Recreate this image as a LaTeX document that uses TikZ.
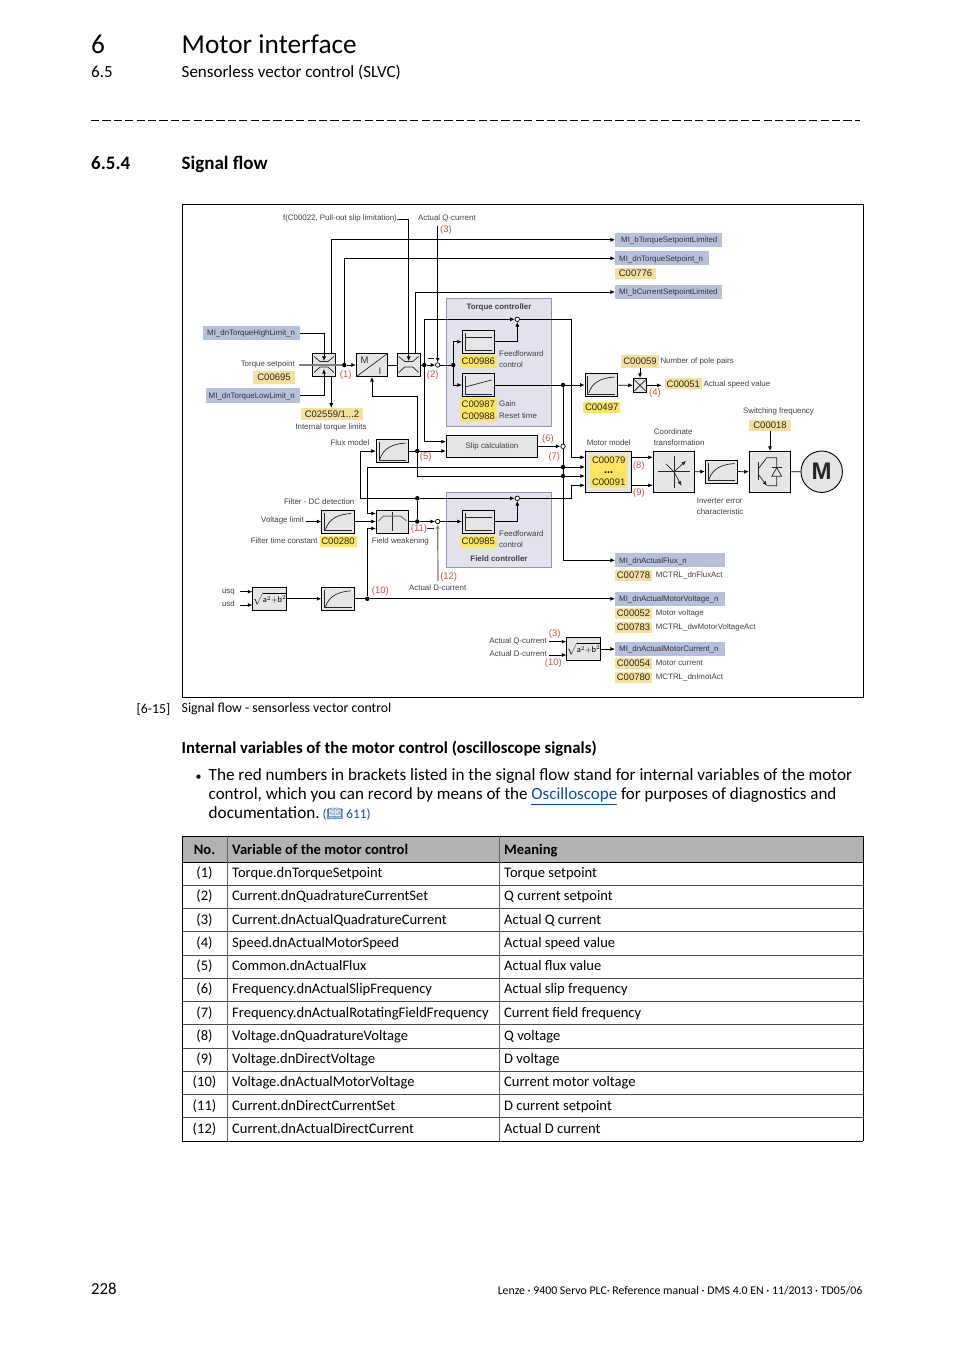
\documentclass[tikz,border=0pt]{standalone}
\usepackage{fontspec}
\setmainfont{Carlito}
\newfontfamily\diagfont{Liberation Sans}
\newfontfamily\bookfont{Noto Emoji}
\usetikzlibrary{arrows.meta}
\definecolor{blockgray}{HTML}{E4E5E7}
\definecolor{panelblue}{HTML}{E1E2EE}
\definecolor{panelline}{HTML}{8F97B8}
\definecolor{sigfill}{HTML}{B5C1DC}
\definecolor{codefill}{HTML}{F8E09C}
\definecolor{ctrlfill}{HTML}{FFE45F}
\definecolor{redtext}{HTML}{C4513F}
\definecolor{headgray}{HTML}{B2B2B2}
\definecolor{linkblue}{HTML}{0B4EA2}
\newcommand{\labfont}{\diagfont\fontsize{7.9pt}{11pt}\selectfont}
\newcommand{\codefont}{\diagfont\fontsize{9.5pt}{11pt}\selectfont}
\tikzset{
    lab/.style={
           font=\labfont,
           text=black!75,
           inner sep=0pt,
           text height=6pt,
           text depth=1.6pt,
           },
}
\tikzset{
    mlab/.style={
           font=\labfont,
           text=black!75,
           inner sep=0pt,
           align=left,
           anchor=north west,
           },
}
\tikzset{
    redlab/.style={
           font=\codefont,
           text=redtext,
           inner sep=0pt,
           },
}
\tikzset{
    sigbox/.style={
           font=\labfont,
           text=black!80,
           fill=sigfill,
           inner xsep=4pt,
           inner ysep=0pt,
           align=left,
           anchor=west,
           text height=7pt,
           text depth=1.6pt,
           minimum height=14pt,
           },
}
\tikzset{
    codebox/.style={
           font=\codefont,
           text=black!85,
           fill=codefill,
           inner sep=0pt,
           minimum width=37pt,
           minimum height=11pt,
           },
}
\tikzset{
    ctrlbox/.style={
           codebox,
           fill=ctrlfill,
           },
}
\tikzset{
    block/.style={
           draw=black,
           line width=.9pt,
           fill=blockgray,
           inner sep=0pt,
           minimum width=32.4pt,
           minimum height=23pt,
           },
}
\tikzset{
    panel/.style={
           draw=panelline,
           line width=.9pt,
           fill=panelblue,
           minimum width=105pt,
           inner sep=0pt,
           },
}
\tikzset{
    dot/.style={
           circle,
           fill=black,
           inner sep=0pt,
           minimum size=4.5pt,
           },
}
\tikzset{
    sumnode/.style={
           circle,
           draw=black,
           fill=white,
           line width=.7pt,
           inner sep=0pt,
           minimum size=4.5pt,
           },
}
\tikzset{
    flow/.style={
           draw=black,
           line width=.75pt,
           -{Latex[length=4.6pt,width=4pt]},
           },
}
\tikzset{
    wire/.style={
           draw=black,
           line width=.75pt,
           },
}
\tikzset{
    graywire/.style={
           draw=black!50,
           line width=1.2pt,
           },
}
\tikzset{
    icon/.style={
           draw=black!85,
           line width=.7pt,
           },
}
\tikzset{
    page/.style={
           inner sep=0pt,
           anchor=west,
           text height=10.5pt,
           text depth=3.2pt,
           },
}
\tikzset{
    cell/.style={
           font=\fontsize{14.55pt}{17pt}\selectfont,
           inner sep=0pt,
           text height=9.8pt,
           text depth=3pt,
           },
}
% icons inside the blocks
\newcommand{\axes}[1]{
    \draw[icon] ([shift={(-13.5,-9)}]#1.center) -- ([shift={(-13.5,9)}]#1.center) -- ([shift={(13.5,9)}]#1.center);
}
\newcommand{\curveicon}[1]{
    \axes{#1}
    \draw[icon] ([shift={(-12.5,8)}]#1.center) .. controls ([shift={(-9,-3)}]#1.center) and ([shift={(0,-7)}]#1.center) .. ([shift={(13,-8)}]#1.center);
}
\newcommand{\limicon}[1]{
    \draw[icon] ([shift={(-10,-8.5)}]#1.center) -- ([shift={(-4,-3.5)}]#1.center) -- ([shift={(4,-3.5)}]#1.center) -- ([shift={(10,-8.5)}]#1.center);
    \draw[icon] ([shift={(-10,7.5)}]#1.center) -- ([shift={(-4,2)}]#1.center) -- ([shift={(4,2)}]#1.center) -- ([shift={(10,7.5)}]#1.center);
}
\begin{document}
\begin{tikzpicture}[x=1pt,y=-1pt]
\useasboundingbox (0,0) rectangle (954,1350);
% page head
\node[anchor=west,inner sep=0pt,font=\fontsize{27.3pt}{30pt}\selectfont](chapno) at (91,44.5){6};
\node[anchor=west,inner sep=0pt,font=\fontsize{27.3pt}{30pt}\selectfont](chaptitle) at (181.5,44.5){Motor interface};
\node[page,font=\fontsize{17pt}{19pt}\selectfont](secno) at (91,73.5){6.5};
\node[page,font=\fontsize{17pt}{19pt}\selectfont](sectitle) at (181.5,73.5){Sensorless vector control (SLVC)};
\draw[line width=.8pt,dash pattern=on 8.2pt off 3.2pt] (91,120) -- (860,120);
\node[page,font=\fontsize{19pt}{22pt}\selectfont\bfseries](subno) at (91,166){6.5.4};
\node[page,font=\fontsize{19pt}{22pt}\selectfont\bfseries](subtitle) at (181.5,166){Signal flow};
% frame and panels
\draw[line width=.9pt] (182,204) rectangle (863,697);
\node[panel,minimum height=128pt](torquepanel) at (499.2,362.3){};
\node[panel,minimum height=75pt](fieldpanel) at (499.2,529.8){};
% blocks
\node[block,minimum width=23.4pt](lim1) at (324,365){};
\node[block,minimum width=31.4pt](mi) at (372,365){};
\node[block,minimum width=22.7pt](lim2) at (408.7,365){};
\node[block](ff1) at (478.5,341.8){};
\node[block](ff2) at (478.5,385){};
\node[block](rate) at (601.3,385){};
\node[block,minimum width=13.4pt,minimum height=14pt](mult) at (640,385.3){};
\node[block,minimum width=91.4pt,minimum height=22pt,font=\labfont,text=black!75](slip) at (492,446.3){Slip calculation};
\node[block,minimum height=23.4pt](flux) at (392.5,451){};
\node[block](filt) at (338,521.5){};
\node[block](fw) at (392.5,521.5){};
\node[block](ff3) at (478.5,521.5){};
\node[block,font=\diagfont\fontsize{8.4pt}{10pt}\selectfont](sq1) at (269.5,598.8){$\sqrt{\mathrm{a}^2\mathrm{+b}^2}$};
\node[block](filt2) at (338,598.8){};
\node[block,minimum height=23.4pt,font=\diagfont\fontsize{8.4pt}{10pt}\selectfont](sq2) at (583.5,649){$\sqrt{\mathrm{a}^2\mathrm{+b}^2}$};
\node[block,minimum width=46pt,minimum height=41pt](mm) at (608.3,471.8){};
\node[block,minimum width=41.4pt,minimum height=41pt](coord) at (674,471.8){};
\node[block](inverr) at (721.5,471.5){};
\node[block,minimum width=41.4pt,minimum height=41pt](igbt) at (770,471.8){};
\node[circle,draw=black,line width=.9pt,fill=blockgray,minimum size=41.4pt,inner sep=0pt,font=\diagfont\fontsize{24pt}{26pt}\selectfont\bfseries,text=black!85](motor) at (821.7,471.7){M};
% junctions
\node[dot](dotA) at (344.3,365){};
\node[dot](dotB) at (424.3,365){};
\node[sumnode](sumQ) at (437.7,365){};
\node[dot](dotC) at (453.3,365){};
\node[sumnode](sumT) at (517.3,319.3){};
\node[dot](dotS) at (563,385){};
\node[sumnode](sumF) at (563,446.3){};
\node[dot](dotG) at (563,467){};
\node[dot](dotH) at (563,476){};
\node[dot](dotF) at (417.3,451){};
\node[dot](dotI) at (417.3,498.3){};
\node[dot](dotJ) at (417.3,521.5){};
\node[sumnode](sumD) at (437.7,521.5){};
\node[sumnode](sumV) at (517.3,498.3){};
\node[dot](dotK) at (367.3,598.8){};
% signal names
\node[sigbox,text width=89pt](hi) at (203,333){MI\_dnTorqueHighLimit\_n};
\node[sigbox,text width=89pt,inner xsep=2.5pt,minimum height=15pt](lo) at (206,395.8){MI\_dnTorqueLowLimit\_n};
\node[sigbox,text width=95pt,inner xsep=6pt](bTq) at (615,239.8){MI\_bTorqueSetpointLimited};
\node[sigbox,text width=86pt](dnTq) at (615,258.3){MI\_dnTorqueSetpoint\_n};
\node[sigbox,text width=99pt](bCur) at (615,292){MI\_bCurrentSetpointLimited};
\node[sigbox,text width=102pt](aFlux) at (615,560.3){MI\_dnActualFlux\_n};
\node[sigbox,text width=102pt](vMot) at (615,598.8){MI\_dnActualMotorVoltage\_n};
\node[sigbox,text width=102pt](iMot) at (615,649){MI\_dnActualMotorCurrent\_n};
% parameter codes
\node[codebox,minimum width=41pt](c776) at (635.5,273){C00776};
\node[codebox,minimum width=42pt,minimum height=13pt](c695) at (274,377.5){C00695};
\node[codebox,minimum width=62pt,minimum height=12pt](c2559) at (332,414){C02559/1...2};
\node[codebox,minimum width=37.7pt,minimum height=12.7pt](c59) at (640,361.3){C00059};
\node[codebox,minimum height=11pt](c51) at (683.3,383.8){C00051};
\node[codebox,minimum width=41.7pt](c18) at (770,425){C00018};
\node[codebox](c778) at (633.5,575.5){C00778};
\node[codebox](c52) at (633.5,613.3){C00052};
\node[codebox](c783) at (633.5,627){C00783};
\node[codebox](c54) at (633.5,663.3){C00054};
\node[codebox](c780) at (633.5,677){C00780};
\node[ctrlbox,minimum height=12.7pt](c986) at (478.3,361.3){C00986};
\node[ctrlbox,minimum height=12.5pt](c987) at (478.3,404.5){C00987};
\node[ctrlbox,minimum height=12pt](c988) at (478.3,416.3){C00988};
\node[ctrlbox,minimum width=36.7pt,minimum height=11pt](c497) at (601.7,407.2){C00497};
\node[ctrlbox](c280) at (338,541.2){C00280};
\node[ctrlbox](c985) at (478.3,541.5){C00985};
\node[ctrlbox,minimum width=37.3pt,minimum height=32.7pt](c79) at (608.7,471.7){};
\node[font=\codefont,text=black!85,inner sep=0pt](c79a) at (608.7,460.3){C00079};
\node[font=\diagfont\fontsize{11pt}{12pt}\selectfont\bfseries,inner sep=0pt](c79b) at (608.7,472.6){...};
\node[font=\codefont,text=black!85,inner sep=0pt](c79c) at (608.7,482.7){C00091};
% texts
\node[lab,anchor=east](pullout) at (397,218.3){f(C00022, Pull-out slip limitation)};
\node[lab,anchor=west](actQ) at (418,218.3){Actual Q-current};
\node[lab,anchor=east](tqset) at (295,364.6){Torque setpoint};
\node[lab](inttq) at (331,427.3){Internal torque limits};
\node[lab,anchor=east](fluxlab) at (369.5,443.3){Flux model};
\node[lab,font=\labfont\bfseries](tqctrl) at (499,307.3){Torque controller};
\node[mlab](ffa) at (499,350.9){Feedforward\\control};
\node[lab,anchor=west](gain) at (499,404.5){Gain};
\node[lab,anchor=west](reset) at (499,416.5){Reset time};
\node[lab,anchor=west](poles) at (660.3,361.3){Number of pole pairs};
\node[lab,anchor=west](speed) at (703.3,384.3){Actual speed value};
\node[lab](mmlab) at (608.7,443.3){Motor model};
\node[mlab](cotrans) at (653.7,428.8){Coordinate\\transformation};
\node[lab](swf) at (778.5,411.3){Switching frequency};
\node[mlab](ierr) at (696.7,497.7){Inverter error\\characteristic};
\node[lab,anchor=east](filtdc) at (354.5,502.3){Filter - DC detection};
\node[lab,anchor=east](vlimlab) at (304,520.6){Voltage limit};
\node[lab,anchor=east](ftc) at (317.7,541.3){Filter time constant};
\node[lab](fwlab) at (400.3,541.3){Field weakening};
\node[mlab](ffb) at (499,530.8){Feedforward\\control};
\node[lab,font=\labfont\bfseries](fctrl) at (499,559.3){Field controller};
\node[lab](actD) at (437.7,588.3){Actual D-current};
\node[lab,anchor=east](usq) at (235,591.6){usq};
\node[lab,anchor=east](usd) at (235,604.6){usd};
\node[lab,anchor=east](actQb) at (547,641.3){Actual Q-current};
\node[lab,anchor=east](actDb) at (547,654.3){Actual D-current};
\node[lab,anchor=west](mfa) at (655.7,575.3){MCTRL\_dnFluxAct};
\node[lab,anchor=west](mv) at (655.7,613.3){Motor voltage};
\node[lab,anchor=west](mva) at (655.7,627.3){MCTRL\_dwMotorVoltageAct};
\node[lab,anchor=west](mc) at (655.7,663.3){Motor current};
\node[lab,anchor=west](mia) at (655.7,677.3){MCTRL\_dnImotAct};
% red numbers
\node[redlab](n1) at (345.7,375){(1)};
\node[redlab](n2) at (432.7,375){(2)};
\node[redlab](n3) at (446,230){(3)};
\node[redlab](n4) at (655,393.5){(4)};
\node[redlab](n5) at (425.7,457){(5)};
\node[redlab](n6) at (548,439){(6)};
\node[redlab](n7) at (554.3,457){(7)};
\node[redlab](n8) at (638.7,466){(8)};
\node[redlab](n9) at (639,493){(9)};
\node[redlab](n10) at (380.3,591){(10)};
\node[redlab](n11) at (419,528.7){(11)};
\node[redlab](n12) at (448.7,577){(12)};
\node[redlab](n3b) at (554.7,634.5){(3)};
\node[redlab](n10b) at (553.3,663.3){(10)};
% free ends and bends
\coordinate (inTq) at (299.3,365);
\coordinate (pullend) at (399.3,219.7);
\coordinate (qend) at (437.7,226.3);
\coordinate (tk) at (571.7,457.3);
\coordinate (rk) at (571.7,485.3);
\coordinate (fk) at (360.3,451);
\coordinate (fwk) at (367.3,513.5);
\coordinate (vlim) at (306,521.5);
\coordinate (dend) at (438,581);
\coordinate (usqend) at (240,591.7);
\coordinate (usdend) at (240,605);
\coordinate (qbend) at (549.3,641.7);
\coordinate (dbend) at (549.3,655);
% connectors
\draw[graywire] (inTq) -- (dotA);
\draw[flow] (dotA) -- (mi);
\draw[flow] (hi) -| ([yshift=-8pt]lim1.north);
\draw[flow] (lo) -| ([yshift=8pt]lim1.south);
\draw[flow] ([xshift=7.3pt]lim1.south) -- ([xshift=7.3pt]lim1.south |- c2559.north);
\draw[flow] ([xshift=7.3pt]lim1.north) |- (bTq);
\draw[flow] (dotA) |- (dnTq);
\draw[wire] (mi) -- (lim2);
\draw[wire] (lim2) -- (dotB);
\draw[flow] (dotB) -- (sumQ);
\draw[wire] (sumQ) -- (dotC);
\draw[wire] (pullout) -- (pullend);
\draw[flow] (pullend) -| ([yshift=-8pt]lim2.north);
\draw[flow] (qend) -- (sumQ);
\draw[flow] ([xshift=7pt]lim2.north) |- (bCur);
\draw[flow] (dotC) |- (ff1);
\draw[flow] (dotC) |- (ff2);
\draw[flow] (dotB) |- (sumT);
\draw[flow] (ff1) -| (sumT);
\draw[flow] (sumT) -| (tk) -- (mm.west |- tk);
\draw[flow] (ff2) -- (rate);
\draw[wire] (dotS) -- (sumF);
\draw[flow] (rate) -- (mult);
\draw[flow] (c59) -- (mult);
\draw[flow] (mult.east) -- ([xshift=-3pt]c51.west |- mult.east);
\draw[flow] (dotB) |- ([yshift=4.6pt]slip.west);
\draw[flow] (flux) -- ([yshift=-4.7pt]slip.west);
\draw[flow] (slip) -- (sumF);
\draw[wire] (sumF) -- (dotH);
\draw[flow] (dotH) |- (aFlux);
\draw[flow] (dotG) -- (mm.west |- dotG);
\draw[flow] (dotG) -| (fwk) -- ([yshift=8pt]fw.west);
\draw[flow] (dotF) |- ([yshift=-19.6pt]mi.south) -- (mi.south);
\draw[flow] (dotF) |- (mm.west |- dotH);
\draw[flow] (dotI) -| (fk) -- (flux);
\draw[flow] (dotI) -- (sumV);
\draw[flow] (sumV) -| (rk) -- (mm.west |- rk);
\draw[wire] (dotI) -- (dotJ);
\draw[flow] (vlim) -- (filt);
\draw[flow] (filt) -- (fw);
\draw[wire] (fw) -- (dotJ);
\draw[flow] (dotJ) -- (sumD);
\draw[flow] (sumD) -- (ff3);
\draw[flow] (ff3) -| (sumV);
\draw[graywire,-{Latex[length=4.6pt,width=4pt]}] (dend) -- (sumD);
\draw[flow] (dotK) |- ([yshift=-7pt]fw.west);
\draw[flow] (usqend) -- ([yshift=7.1pt]sq1.west);
\draw[flow] (usdend) -- ([yshift=-6.2pt]sq1.west);
\draw[flow] (sq1) -- (filt2);
\draw[wire] (filt2) -- (dotK);
\draw[flow] (dotK) -- (vMot);
\draw[flow] (qbend) -- ([yshift=7.3pt]sq2.west);
\draw[flow] (dbend) -- ([yshift=-6pt]sq2.west);
\draw[flow] (sq2) -- (iMot);
\draw[flow] ([yshift=14.5pt]mm.east) -- ([yshift=14.5pt]coord.west);
\draw[flow] ([yshift=-13.5pt]mm.east) -- ([yshift=-13.5pt]coord.west);
\draw[flow] (coord) -- (inverr);
\draw[flow] (inverr) -- (igbt);
\draw[flow] (c18) -- (igbt);
\draw[wire] (igbt) -- (motor);
% minus signs
\draw[icon] ([shift={(-9.5,-6.7)}]sumQ.center) -- ([shift={(-3.5,-6.7)}]sumQ.center);
\draw[icon] ([shift={(-10.5,6.8)}]sumD.center) -- ([shift={(-3.7,6.8)}]sumD.center);
% icons
\limicon{lim1}
\limicon{lim2}
\draw[icon] (mi.south west) -- (mi.north east);
\node[font=\diagfont\fontsize{9.5pt}{11pt}\selectfont,text=black!80,inner sep=0pt](mtxt) at (364.5,360){M};
\node[font=\diagfont\fontsize{9.5pt}{11pt}\selectfont,text=black!80,inner sep=0pt](itxt) at (380,371){I};
\axes{ff1}
\draw[icon] ([shift={(-13.5,-4)}]ff1.center) -- ([shift={(13,-4)}]ff1.center);
\axes{ff2}
\draw[icon] ([shift={(-13.5,2)}]ff2.center) -- ([shift={(13,-5)}]ff2.center);
\axes{ff3}
\draw[icon] ([shift={(-13.5,-4)}]ff3.center) -- ([shift={(13,-4)}]ff3.center);
\curveicon{rate}
\curveicon{flux}
\curveicon{filt}
\curveicon{filt2}
\curveicon{inverr}
\draw[icon] ([shift={(-6,-6)}]mult.center) -- ([shift={(6,6)}]mult.center);
\draw[icon] ([shift={(-6,6)}]mult.center) -- ([shift={(6,-6)}]mult.center);
% field weakening
\draw[icon] ([shift={(0,-10)}]fw.center) -- ([shift={(0,9.5)}]fw.center);
\draw[icon,draw=black!55,line width=1pt] ([shift={(-14,-.5)}]fw.center) -- ([shift={(-9,-5.5)}]fw.center) -- ([shift={(8,-5.5)}]fw.center) -- ([shift={(14,-.5)}]fw.center);
% coordinate transformation
\draw[icon] ([shift={(0,-16)}]coord.center) -- ([shift={(0,16)}]coord.center);
\draw[icon] ([shift={(-16,0)}]coord.center) -- ([shift={(16,0)}]coord.center);
\draw[icon] ([shift={(-8,-8)}]coord.center) -- (coord.center);
\draw[icon,-{Latex[length=4.6pt,width=4pt]}] (coord.center) -- ([shift={(12,-11)}]coord.center);
\draw[icon,-{Latex[length=4.6pt,width=4pt]}] (coord.center) -- ([shift={(7.5,14)}]coord.center);
% switch symbol
\draw[icon,line width=.9pt] ([shift={(-11.7,-9.5)}]igbt.center) -- ([shift={(-11.7,8.5)}]igbt.center);
\draw[icon] ([shift={(-11.7,-3)}]igbt.center) -- ([shift={(-3.3,-14)}]igbt.center) -- ([shift={(6.7,-14)}]igbt.center) -- ([shift={(6.7,14)}]igbt.center) -- ([shift={(-3,14)}]igbt.center);
\draw[icon,-{Latex[length=4.6pt,width=4pt]}] ([shift={(-11.7,2.5)}]igbt.center) -- ([shift={(-3,14)}]igbt.center);
\draw[icon,fill=blockgray] ([shift={(1.7,4.5)}]igbt.center) -- ([shift={(11.7,4.5)}]igbt.center) -- ([shift={(6.7,-4)}]igbt.center) -- cycle;
\draw[icon] ([shift={(1.7,-4)}]igbt.center) -- ([shift={(11.7,-4)}]igbt.center);
% caption and text
\node[anchor=west,inner sep=0pt,font=\fontsize{13.76pt}{16pt}\selectfont](capno) at (136.5,709){[6-15]};
\node[anchor=west,inner sep=0pt,font=\fontsize{13.76pt}{16pt}\selectfont](captxt) at (181.5,709){Signal flow - sensorless vector control};
\node[page,font=\fontsize{16.75pt}{19pt}\selectfont\bfseries](vartitle) at (181.5,749.5){Internal variables of the motor control (oscilloscope signals)};
\node[page,font=\fontsize{12pt}{19pt}\selectfont](bul) at (195.5,777){•};
\node[page,font=\fontsize{17.16pt}{19pt}\selectfont](txta) at (208.5,777){The red numbers in brackets listed in the signal flow stand for internal variables of the motor};
\node[page,font=\fontsize{17pt}{19pt}\selectfont](txtb) at (208.5,796){control, which you can record by means of the \textcolor{linkblue}{\underline{Oscilloscope}} for purposes of diagnostics and};
\node[page,font=\fontsize{17.16pt}{19pt}\selectfont](txtc) at (208.5,815){documentation.\hspace{3pt}\textcolor{linkblue}{\fontsize{13.2pt}{16pt}\selectfont(\bookfont 📖\normalfont{} 611)}};
% table
\fill[headgray] (182,836) rectangle (863,862);
\node[cell,font=\fontsize{14.55pt}{17pt}\selectfont\bfseries](hno) at (204.5,851){No.};
\node[cell,anchor=west,font=\fontsize{14.55pt}{17pt}\selectfont\bfseries](hvar) at (232,851){Variable of the motor control};
\node[cell,anchor=west,font=\fontsize{14.55pt}{17pt}\selectfont\bfseries](hmean) at (504,851){Meaning};
\foreach \no/\var/\mean [count=\r] in {
    1/Torque.dnTorqueSetpoint/Torque setpoint,
    2/Current.dnQuadratureCurrentSet/Q current setpoint,
    3/Current.dnActualQuadratureCurrent/Actual Q current,
    4/Speed.dnActualMotorSpeed/Actual speed value,
    5/Common.dnActualFlux/Actual flux value,
    6/Frequency.dnActualSlipFrequency/Actual slip frequency,
    7/Frequency.dnActualRotatingFieldFrequency/Current field frequency,
    8/Voltage.dnQuadratureVoltage/Q voltage,
    9/Voltage.dnDirectVoltage/D voltage,
    10/Voltage.dnActualMotorVoltage/Current motor voltage,
    11/Current.dnDirectCurrentSet/D current setpoint,
    12/Current.dnActualDirectCurrent/Actual D current}{
    \pgfmathsetmacro\ry{862.6+(\r-.5)*23.25}
    \node[cell](no\r) at (204.5,\ry){(\no)};
    \node[cell,anchor=west](var\r) at (232,\ry){\var};
    \node[cell,anchor=west](mean\r) at (504,\ry){\mean};
    \pgfmathsetmacro\ly{862+\r*23.25}
    \draw[line width=.7pt,black!70] (182,\ly) -- (863,\ly);
}
\draw[line width=.9pt] (182,836) -- (863,836);
\draw[line width=.9pt] (182,862) -- (863,862);
\draw[line width=.9pt] (182,1141) -- (863,1141);
\draw[line width=.9pt] (182,836) -- (182,1141);
\draw[line width=.9pt] (863,836) -- (863,1141);
\draw[line width=.7pt,black!60] (227.5,836) -- (227.5,1141);
\draw[line width=.7pt,black!60] (499.5,836) -- (499.5,1141);
% page foot
\node[anchor=west,inner sep=0pt,font=\fontsize{16.8pt}{19pt}\selectfont](pageno) at (91,1289){228};
\node[anchor=east,inner sep=0pt,font=\fontsize{11.8pt}{14pt}\selectfont](foot) at (862.5,1290.5){Lenze · 9400 Servo PLC· Reference manual · DMS 4.0 EN · 11/2013 · TD05/06};
\end{tikzpicture}
\end{document}
